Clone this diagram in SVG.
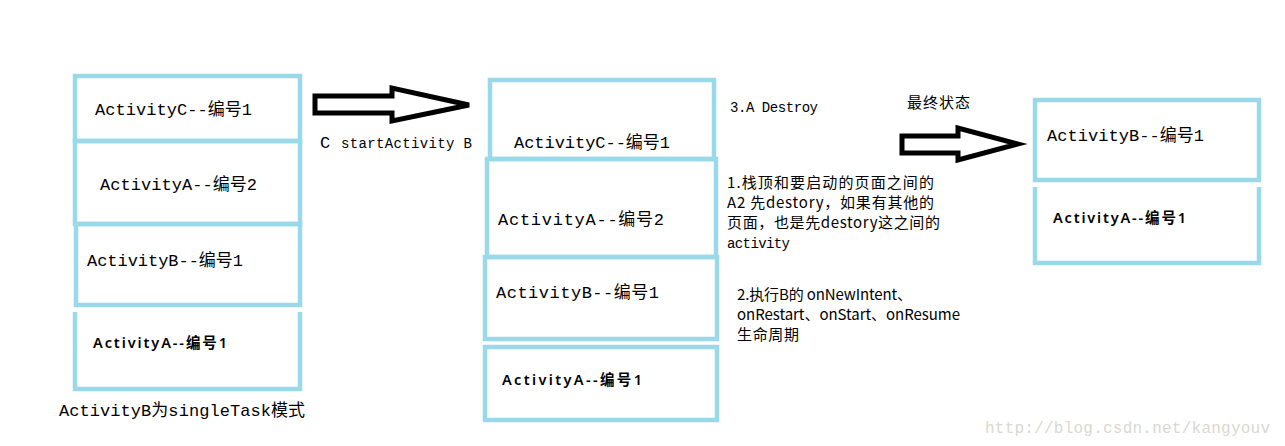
<svg xmlns="http://www.w3.org/2000/svg" width="1285" height="446" viewBox="0 0 1285 446">
<style>
.box{fill:none;stroke:#99d9ea;stroke-width:4.5}
.m{font-family:"Liberation Mono","Noto Sans CJK SC",monospace;font-size:17px;fill:#000}
.s{font-family:"Liberation Mono","Noto Sans CJK SC",monospace;font-size:14px;fill:#000}
.b{font-family:"Noto Sans","Noto Sans CJK SC",sans-serif;font-size:14.5px;font-weight:600;fill:#000}
.c{font-family:"Noto Sans CJK SC",sans-serif;font-size:15px;fill:#000}
.arrow{fill:#fff;stroke:#000;stroke-width:5;stroke-linejoin:miter}
.wm{font-family:"Liberation Mono","Noto Sans CJK SC",monospace;font-size:16px;fill:#d9d9d0}
</style>
<rect width="1285" height="446" fill="#fff"/>
<g id="left-stack">
<g id="L1"><rect class="box" x="75" y="76" width="225" height="65"/><text class="m" x="95" y="115" textLength="157">ActivityC--编号1</text></g>
<g id="L2"><rect class="box" x="75" y="141" width="225" height="83"/><text class="m" x="100" y="190" textLength="157">ActivityA--编号2</text></g>
<g id="L3"><rect class="box" x="76" y="224" width="224" height="81"/><text class="m" x="87" y="266" textLength="156">ActivityB--编号1</text></g>
<g id="L4"><path class="box" d="M75,312 V389 H300 V312"/><text class="b" x="93" y="348" textLength="134">ActivityA--编号1</text></g>
<text class="m" x="59" y="416" textLength="246">ActivityB为singleTask模式</text>
</g>
<g id="mid-stack">
<g id="M1"><rect class="box" x="490" y="80" width="224" height="79"/><text class="m" x="514" y="148" textLength="156">ActivityC--编号1</text></g>
<g id="M2"><rect class="box" x="487" y="159" width="229" height="98"/><text class="m" x="498" y="225" textLength="166">ActivityA--编号2</text></g>
<g id="M3"><rect class="box" x="485" y="257" width="232" height="82"/><text class="m" x="496" y="298" textLength="163">ActivityB--编号1</text></g>
<g id="M4"><rect class="box" x="485" y="347" width="232" height="73"/><text class="b" x="502" y="385" textLength="140">ActivityA--编号1</text></g>
</g>
<g id="right-stack">
<g id="R1"><rect class="box" x="1035" y="100" width="224" height="80"/><text class="m" x="1047" y="141" textLength="157">ActivityB--编号1</text></g>
<g id="R2"><path class="box" d="M1035,187 V263 H1259 V187"/><text class="b" x="1053" y="223" textLength="133">ActivityA--编号1</text></g>
</g>
<g id="connectors">
<polygon class="arrow" points="315,96 392,96 392,88 469,105 392,121 392,113 315,113"/>
<polygon class="arrow" points="902,136 958,136 958,128 1018,144 958,160 958,153 902,153"/>
</g>
<g id="labels">
<text class="m" x="320" y="148">C</text>
<text class="s" x="341" y="148" textLength="131">startActivity B</text>
<text class="s" x="730" y="112" textLength="88">3.A Destroy</text>
<text class="c" x="907" y="108" textLength="63">最终状态</text>
<text class="c" x="727" y="188" textLength="207">1.栈顶和要启动的页面之间的</text>
<text class="c" x="727" y="208" textLength="207">A2 先destory，如果有其他的</text>
<text class="c" x="727" y="228" textLength="213">页面，也是先destory这之间的</text>
<text class="s" x="727" y="248" textLength="63">activity</text>
<text class="c" x="737" y="300" textLength="175">2.执行B的 onNewIntent、</text>
<text class="c" x="737" y="320" textLength="223">onRestart、onStart、onResume</text>
<text class="c" x="737" y="340" textLength="62">生命周期</text>
</g>
<text class="wm" x="985" y="433" textLength="285">http://blog.csdn.net/kangyouv</text>
</svg>
